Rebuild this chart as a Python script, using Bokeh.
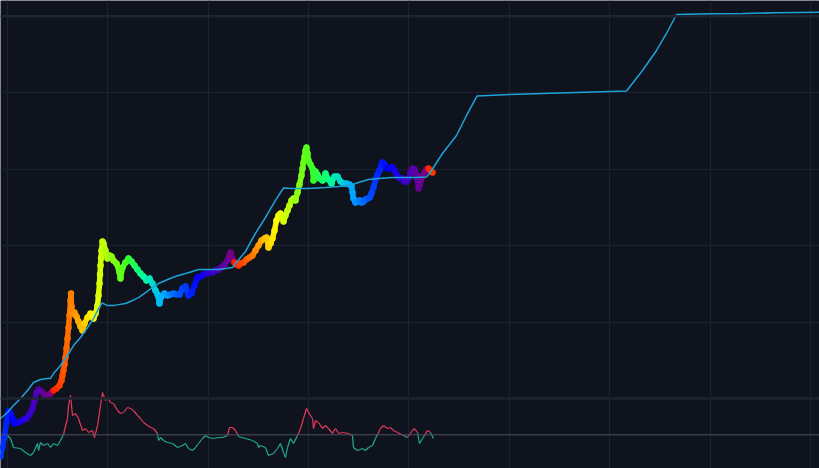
import numpy as np
from bokeh.plotting import figure
from bokeh.models import Range1d, LinearScale, Grid, FixedTicker, Span, ColumnDataSource
from bokeh.embed import file_html
from bokeh.resources import INLINE

# ---------------- data ----------------
halving_years = [2009.01, 2012.91, 2016.52, 2020.36, 2024.30]

price_years = [
    2011.867, 2011.906, 2011.946, 2011.986, 2012.026, 2012.066, 2012.106, 2012.145, 2012.205, 2012.265,
    2012.325, 2012.385, 2012.444, 2012.504, 2012.544, 2012.584, 2012.624, 2012.683, 2012.743, 2012.803,
    2012.863, 2012.922, 2012.982, 2013.042, 2013.082, 2013.101, 2013.121, 2013.141, 2013.161, 2013.181,
    2013.201, 2013.221, 2013.241, 2013.261, 2013.271, 2013.281, 2013.301, 2013.341, 2013.381, 2013.420,
    2013.460, 2013.500, 2013.540, 2013.600, 2013.659, 2013.719, 2013.759, 2013.799, 2013.819, 2013.839,
    2013.849, 2013.859, 2013.869, 2013.878, 2013.898, 2013.918, 2013.958, 2013.998, 2014.038, 2014.078,
    2014.117, 2014.177, 2014.237, 2014.257, 2014.297, 2014.356, 2014.416, 2014.476, 2014.536, 2014.595,
    2014.655, 2014.715, 2014.775, 2014.835, 2014.894, 2014.954, 2014.994, 2015.034, 2015.073, 2015.133,
    2015.193, 2015.253, 2015.312, 2015.372, 2015.432, 2015.492, 2015.552, 2015.611, 2015.671, 2015.731,
    2015.791, 2015.851, 2015.910, 2015.970, 2016.030, 2016.090, 2016.149, 2016.209, 2016.269, 2016.329,
    2016.389, 2016.428, 2016.448, 2016.488, 2016.528, 2016.568, 2016.608, 2016.647, 2016.707, 2016.767,
    2016.827, 2016.887, 2016.946, 2017.006, 2017.066, 2017.126, 2017.165, 2017.205, 2017.245, 2017.285,
    2017.325, 2017.364, 2017.404, 2017.444, 2017.484, 2017.504, 2017.544, 2017.584, 2017.623, 2017.663,
    2017.703, 2017.743, 2017.783, 2017.823, 2017.862, 2017.882, 2017.902, 2017.922, 2017.942, 2017.962,
    2017.982, 2018.002, 2018.042, 2018.081, 2018.101, 2018.141, 2018.181, 2018.221, 2018.281, 2018.340,
    2018.400, 2018.460, 2018.520, 2018.580, 2018.640, 2018.699, 2018.759, 2018.819, 2018.859, 2018.879,
    2018.898, 2018.938, 2018.978, 2019.018, 2019.058, 2019.097, 2019.137, 2019.177, 2019.217, 2019.257,
    2019.297, 2019.337, 2019.376, 2019.416, 2019.456, 2019.476, 2019.516, 2019.556, 2019.595, 2019.635,
    2019.675, 2019.715, 2019.755, 2019.795, 2019.834, 2019.874, 2019.914, 2019.954, 2019.994, 2020.034,
    2020.074, 2020.113, 2020.153, 2020.173, 2020.193, 2020.213, 2020.233, 2020.273, 2020.312, 2020.352,
    2020.392, 2020.432, 2020.472,
]
price_usd = [
    1.75, 2.29, 3.28, 4.85, 6.76, 6.36, 5.47, 4.71, 4.85, 5.00,
    5.31, 5.47, 6.18, 7.40, 9.42, 12.0, 13.1, 12.4, 11.3, 10.6,
    11.6, 12.7, 13.5, 14.8, 17.2, 20.0, 23.3, 27.8, 34.4, 45.1,
    61.0, 84.9, 122, 191, 236, 160, 129, 133, 118, 102,
    87.3, 77.5, 95.7, 115, 129, 111, 129, 164, 222, 319,
    419, 549, 688, 862, 1130, 1065, 862, 677, 742, 720,
    638, 583, 445, 371, 516, 601, 677, 619, 549, 486,
    431, 394, 349, 371, 319, 258, 229, 175, 216, 236,
    222, 229, 236, 229, 229, 275, 292, 222, 236, 301,
    382, 394, 419, 431, 445, 445, 472, 486, 516, 565,
    638, 742, 811, 677, 601, 565, 549, 583, 601, 658,
    698, 742, 862, 1002, 1165, 1239, 1277, 945, 1065, 1239,
    1574, 2128, 2472, 2627, 2330, 2065, 2472, 2880, 3340, 3890,
    4130, 3890, 4950, 6290, 8240, 10190, 12200, 14620, 17500, 19170,
    16000, 12970, 11490, 10190, 7100, 9310, 8510, 7530, 7100, 8770,
    7310, 6490, 8000, 8000, 6890, 6490, 6490, 6290, 5930, 4950,
    4130, 3660, 3770, 3890, 3660, 3770, 4010, 4130, 4254, 4800,
    5750, 7310, 8510, 9600, 11490, 12200, 11490, 10500, 10190, 10500,
    10500, 9600, 8510, 7770, 7530, 7530, 6890, 6890, 7530, 9040,
    10190, 9890, 8510, 7100, 5570, 6110, 6890, 8000, 9040, 9890,
    10190, 9600, 9040,
]

model_years = [
    2011.867, 2012.006, 2012.126, 2012.265, 2012.404, 2012.524, 2012.663, 2012.803, 2012.863, 2012.922,
    2013.062, 2013.201, 2013.321, 2013.460, 2013.600, 2013.719, 2013.819, 2013.888, 2013.998, 2014.117,
    2014.217, 2014.356, 2014.496, 2014.615, 2014.755, 2014.894, 2015.014, 2015.153, 2015.293, 2015.412,
    2015.552, 2015.691, 2015.811, 2015.950, 2016.090, 2016.209, 2016.349, 2016.488, 2016.548, 2016.747,
    2016.946, 2017.145, 2017.344, 2017.484, 2017.504, 2017.683, 2018.002, 2018.340, 2018.600, 2018.879,
    2018.998, 2019.197, 2019.396, 2019.675, 2019.934, 2020.133, 2020.352, 2020.412, 2020.671, 2020.950,
    2021.169, 2021.358, 2022.006, 2022.663, 2023.340, 2023.998, 2024.337, 2024.655, 2024.934, 2025.133,
    2025.333, 2025.990, 2026.647, 2027.324, 2028.181,
]
model_usd = [
    5.47, 6.56, 8.10, 10.0, 12.7, 16.2, 17.7, 18.3, 18.3, 21.2,
    27.0, 36.5, 49.3, 62.8, 84.9, 111, 150, 178, 164, 164,
    169, 175, 191, 209, 243, 283, 319, 349, 382, 406,
    431, 458, 486, 486, 486, 486, 501, 516, 583, 838,
    1440, 2330, 3890, 5410, 5660, 5570, 5570, 5750, 5930, 6290,
    6680, 7310, 7530, 7770, 7770, 7770, 7890, 8770, 16000, 27500,
    53300, 90300, 94600, 97500, 100500, 103500, 105100, 195000, 356000, 594000,
    1052000, 1074000, 1083000, 1107000, 1127000,
]

osc_years = [
    2011.867, 2011.926, 2012.006, 2012.066, 2012.126, 2012.265, 2012.365, 2012.464, 2012.524, 2012.604,
    2012.624, 2012.663, 2012.723, 2012.803, 2012.863, 2012.922, 2013.002, 2013.062, 2013.121, 2013.201,
    2013.221, 2013.261, 2013.301, 2013.361, 2013.420, 2013.500, 2013.560, 2013.620, 2013.699, 2013.739,
    2013.799, 2013.859, 2013.898, 2013.958, 2013.998, 2014.058, 2014.117, 2014.197, 2014.257, 2014.317,
    2014.396, 2014.456, 2014.516, 2014.596, 2014.655, 2014.715, 2014.795, 2014.855, 2014.914, 2014.994,
    2015.014, 2015.054, 2015.113, 2015.193, 2015.293, 2015.392, 2015.492, 2015.552, 2015.611, 2015.691,
    2015.751, 2015.811, 2015.890, 2015.950, 2016.010, 2016.109, 2016.209, 2016.289, 2016.389, 2016.428,
    2016.488, 2016.548, 2016.588, 2016.608, 2016.747, 2016.886, 2016.986, 2017.006, 2017.046, 2017.145,
    2017.205, 2017.305, 2017.384, 2017.444, 2017.504, 2017.544, 2017.583, 2017.643, 2017.703, 2017.783,
    2017.843, 2017.902, 2017.962, 2018.002, 2018.081, 2018.101, 2018.141, 2018.201, 2018.281, 2018.340,
    2018.400, 2018.480, 2018.540, 2018.600, 2018.679, 2018.799, 2018.878, 2018.898, 2018.978, 2019.078,
    2019.137, 2019.197, 2019.277, 2019.336, 2019.376, 2019.436, 2019.496, 2019.576, 2019.635, 2019.695,
    2019.775, 2019.894, 2019.974, 2020.074, 2020.113, 2020.173, 2020.213, 2020.273, 2020.313, 2020.372,
    2020.432, 2020.492,
]
osc_values = [
    -2.07, -1.07, -0.07, -0.37, -1.27, -1.37, -1.77, -2.07, -1.77, -0.87,
    -1.57, -0.77, -1.07, -0.87, -1.27, -0.87, -1.07, -0.57, 0.03, 1.63,
    2.93, 3.93, 1.93, 2.13, 1.63, 0.43, 0.63, 0.23, 0.43, -0.27,
    0.93, 2.93, 4.23, 3.43, 3.73, 3.23, 3.13, 2.43, 2.13, 2.23,
    2.73, 2.63, 2.43, 1.93, 1.63, 1.23, 0.93, 0.73, 0.63, 0.13,
    -0.57, -0.27, -0.57, -0.77, -0.87, -1.27, -1.07, -0.87, -1.37, -1.57,
    -1.27, -0.87, -0.37, -0.07, -0.27, -0.37, -0.27, -0.27, -0.07, 0.73,
    0.73, 0.43, 0.03, -0.17, -0.37, -0.57, -0.87, -1.27, -1.07, -1.27,
    -2.07, -1.87, -1.37, -0.87, -1.77, -2.27, -1.27, -0.37, -0.87, -0.07,
    0.63, 1.63, 2.63, 2.23, 1.63, 0.63, 1.43, 1.23, 0.63, 0.93,
    0.63, 0.13, 0.63, 0.13, 0.23, 0.13, -0.07, -1.27, -1.57, -1.37,
    -1.57, -1.27, -1.07, -0.37, 0.03, 0.63, 0.93, 0.63, 0.73, 0.43,
    0.23, -0.07, -0.27, 0.43, 0.63, 0.23, -0.87, -0.37, -0.07, 0.43,
    0.23, -0.37,
]

grid_years = [2012, 2014, 2016, 2018, 2020, 2022, 2024, 2026, 2028]
grid_prices = [10, 100, 1000, 10000, 100000, 1000000]
strong_prices = [10, 1000000]

# ---------------- style ----------------
BG = "#0e131d"
GRID = "#1d2230"
MODEL = "#1ea3d9"
UP = "#e5395b"
DOWN = "#22ab94"
ZERO = "#4e525d"

phase_stops = [0.0, 0.10, 0.22, 0.40, 0.50, 0.60, 0.70, 0.80, 0.90, 1.0]
phase_colors = ["#ff1a00", "#ff8000", "#ffff00", "#40ff20", "#00ff99",
                "#00b4ff", "#0050ff", "#0000ff", "#4400c0", "#80007a"]


def hex_rgb(h):
    h = h.lstrip("#")
    return [int(h[i:i + 2], 16) for i in (0, 2, 4)]


stop_rgb = np.array([hex_rgb(c) for c in phase_colors], dtype=float)


def cycle_color(t):
    h = np.array(halving_years)
    i = np.clip(np.searchsorted(h, t, side="right") - 1, 0, len(h) - 2)
    ph = (t - h[i]) / (h[i + 1] - h[i])
    rgb = [np.interp(ph, phase_stops, stop_rgb[:, k]) for k in range(3)]
    return "#%02x%02x%02x" % tuple(int(round(v)) for v in rgb)


# ---------------- figure ----------------
W, H = 819, 468
p = figure(width=W, height=H,
           x_range=Range1d(2011.8665, 2028.181),
           y_range=Range1d(1.215, 1.604e6),
           y_axis_type="log",
           x_axis_location=None, y_axis_location=None,
           output_backend="svg", toolbar_location=None,
           min_border=0, background_fill_color=BG, border_fill_color=BG,
           outline_line_color=None)
p.xgrid.visible = False
p.ygrid.visible = False

p.extra_y_ranges = {"osc": Range1d(-3.37, 43.43)}
p.extra_y_scales = {"osc": LinearScale()}

p.add_layout(Grid(dimension=0, ticker=FixedTicker(ticks=grid_years),
                  grid_line_color=GRID, grid_line_width=1))
p.add_layout(Grid(dimension=1, ticker=FixedTicker(ticks=grid_prices),
                  grid_line_color=GRID, grid_line_width=1))
for lvl in strong_prices:
    p.add_layout(Span(location=lvl, dimension="width", line_color="#1f2431", line_width=2.5))

p.add_layout(Span(location=0, dimension="width", y_range_name="osc",
                  line_color=ZERO, line_width=1))

# oscillator
ox = np.array(osc_years)
ov = np.array(osc_values)
mid = (ov[:-1] + ov[1:]) / 2
osrc = ColumnDataSource(dict(x0=ox[:-1], x1=ox[1:], y0=ov[:-1], y1=ov[1:],
                             c=[UP if m >= 0 else DOWN for m in mid]))
p.segment(x0="x0", y0="y0", x1="x1", y1="y1", line_color="c", line_width=1.2,
          y_range_name="osc", source=osrc)

# price
px = np.array(price_years)
py = np.array(price_usd)
pcol = [cycle_color(t) for t in px]
seg = ColumnDataSource(dict(x0=px[:-1], x1=px[1:], y0=py[:-1], y1=py[1:], c=pcol[:-1]))
p.segment(x0="x0", y0="y0", x1="x1", y1="y1", line_color="c", line_width=5.5,
          line_cap="round", source=seg)
psrc = ColumnDataSource(dict(x=px, y=py, c=pcol))
p.scatter("x", "y", source=psrc, size=6.5, fill_color="c", line_color=None)

# model line
p.line(model_years, model_usd, line_color=MODEL, line_width=1.5)

open("out.html", "w").write(file_html(p, INLINE))
